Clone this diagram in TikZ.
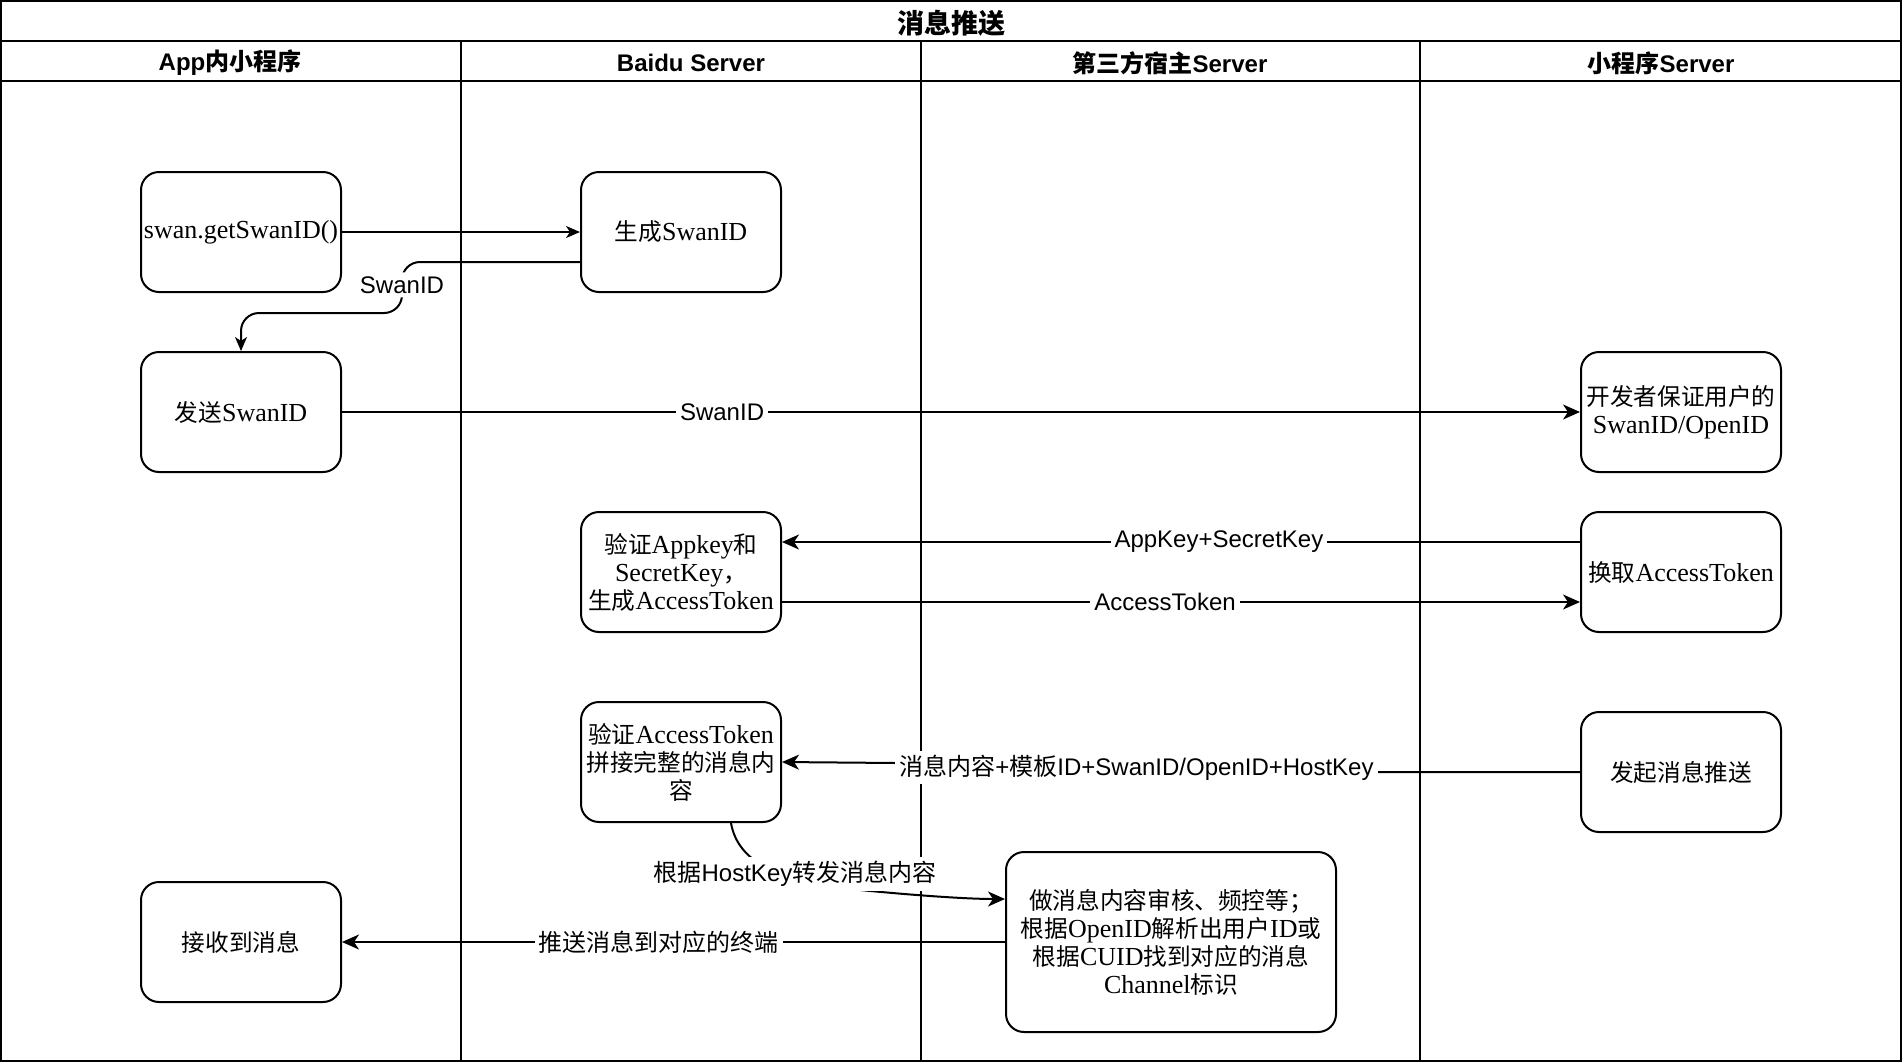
\documentclass[tikz,border=0pt]{standalone}
\usepackage{fontspec}
\setmainfont{Liberation Serif}
\setsansfont{Liberation Sans}
\newfontfamily\cjk{Noto Sans CJK SC}
\newfontfamily\cjkbox{Noto Sans CJK SC}[Scale=0.91]
\newcommand\C[1]{{\cjk #1}}
\newcommand\B[1]{{\cjkbox #1}}
\usetikzlibrary{arrows.meta}
\tikzset{
  frame/.style={line width=1pt},
  box/.style={draw, line width=1pt, rounded corners=9pt, minimum width=100pt, minimum height=60pt,
    align=center, inner sep=1pt, font=\rmfamily\fontsize{13}{14}\selectfont},
  bigbox/.style={box, minimum width=165pt, minimum height=90pt},
  lbl/.style={fill=white, inner sep=2pt, font=\sffamily\fontsize{12}{14}\selectfont},
  hdr/.style={inner sep=0pt, font=\sffamily\bfseries\fontsize{12}{14}\selectfont},
  ttl/.style={inner sep=0pt, font=\sffamily\bfseries\fontsize{13.5}{16}\selectfont},
  arrs/.style={line width=1pt, -{Stealth[length=7pt,width=6pt,inset=2pt]}},
  arr/.style={line width=1pt, -{Stealth[length=8.5pt,width=7.5pt,inset=2.5pt]}},
}
\begin{document}
\begin{tikzpicture}[x=0.5pt,y=-0.5pt]
\useasboundingbox (0,0) rectangle (1902,1062);
% frame and lanes
\draw[frame] (1,1) rectangle (1901,1061);
\draw[frame] (0,41) -- (1902,41);
\draw[frame] (0,81) -- (1902,81);
\draw[frame] (461,41) -- (461,1062);
\draw[frame] (921,41) -- (921,1062);
\draw[frame] (1420,41) -- (1420,1062);
\node[ttl] (title) at (951,23) {\C{消息推送}};
\node[hdr] (h1) at (230,63) {App\C{内小程序}};
\node[hdr] (h2) at (691,63) {Baidu Server};
\node[hdr] (h3) at (1170,63) {\C{第三方宿主}Server};
\node[hdr] (h4) at (1661,63) {\C{小程序}Server};
% boxes
\node[box] (getid) at (241,232) {swan.getSwanID()};
\node[box] (genid) at (681,232) {\B{生成}SwanID};
\node[box] (sendid) at (241,412) {\B{发送}SwanID};
\node[box] (devid) at (1681,412) {\B{开发者保证用户的}\\SwanID/OpenID};
\node[box] (verify) at (681,572) {\B{验证}Appkey\B{和}\\SecretKey\B{，}\\\B{生成}AccessToken};
\node[box] (exch) at (1681,572) {\B{换取}AccessToken};
\node[box] (verify2) at (681,762) {\B{验证}AccessToken\\\B{拼接完整的消息内}\\\B{容}};
\node[box] (hp) at (1681,772) {\B{发起消息推送}};
\node[bigbox] (audit) at (1171,942) {\B{做消息内容审核、频控等；}\\\B{根据}OpenID\B{解析出用户}ID\B{或}\\\B{根据}CUID\B{找到对应的消息}\\Channel\B{标识}};
\node[box] (recv) at (241,942) {\B{接收到消息}};
% connectors
\draw[arrs] (getid.east) -- (genid.west);
\draw[arrs, rounded corners=9pt] ([yshift=-15pt]genid.west) -- (402,262) -- node[lbl, pos=0.45]{SwanID} (402,313) -- (241,313) -- (sendid.north);
\draw[arr] (sendid.east) -- node[lbl, pos=0.307]{SwanID} (devid.west);
\draw[arr] ([yshift=15pt]exch.west) -- node[lbl, pos=0.4525]{AppKey+SecretKey} ([yshift=15pt]verify.east);
\draw[arr] ([yshift=-15pt]verify.east) -- node[lbl, pos=0.48]{AccessToken} ([yshift=-15pt]exch.west);
\draw[arr] (hp.west) -- (1377,772) -- node[lbl]{\C{消息内容}+\C{模板}ID+SwanID/OpenID+HostKey} (896,763) -- (verify2.east);
\draw[arr] ([xshift=25pt]verify2.south) .. controls (738,863) and (780,881) .. (850,889) .. controls (920,896) and (970,899) .. ([yshift=21.5pt]audit.west);
\node[lbl] (hklbl) at (795,874) {\C{根据}HostKey\C{转发消息内容}};
\draw[arr] (audit.west) -- node[lbl, pos=0.522]{\C{推送消息到对应的终端}} (recv.east);
\end{tikzpicture}
\end{document}
